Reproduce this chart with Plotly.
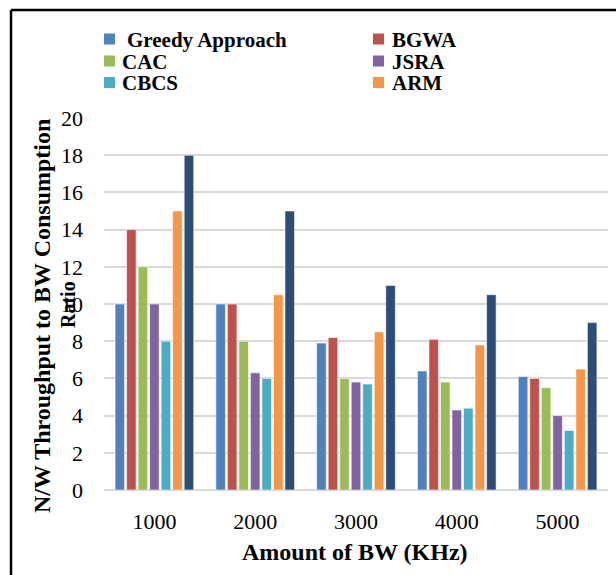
import plotly.graph_objects as go

# Bandwidth amounts on the x axis
bandwidth = ["1000", "2000", "3000", "4000", "5000"]

# Throughput-to-bandwidth-consumption ratio for each scheme
greedy = [10, 10, 7.9, 6.4, 6.1]
bgwa = [14, 10, 8.2, 8.1, 6.0]
cac = [12, 8, 6.0, 5.8, 5.5]
jsra = [10, 6.3, 5.8, 4.3, 4.0]
cbcs = [8, 6, 5.7, 4.4, 3.2]
arm = [15, 10.5, 8.5, 7.8, 6.5]
proposed = [18, 15, 11, 10.5, 9]

series = [
    ("Greedy Approach", greedy, "#4F81BD", True),
    ("BGWA", bgwa, "#C0504D", True),
    ("CAC", cac, "#9BBB59", True),
    ("JSRA", jsra, "#8064A2", True),
    ("CBCS", cbcs, "#4BACC6", True),
    ("ARM", arm, "#F79646", True),
    ("Proposed", proposed, "#2C4D75", False),
]

serif = "Liberation Serif, Times New Roman, serif"

fig = go.Figure()
for name, vals, color, show in series:
    fig.add_trace(go.Bar(
        x=bandwidth, y=vals, name=name, showlegend=False,
        marker=dict(color=color, line=dict(color="white", width=0.6)),
    ))

# plot area in pixels
L, R, T, B = 104, 8, 118, 85
W, H = 616, 575
pw, ph = W - L - R, H - T - B


def px_x(p):
    return (p - L) / pw


def px_y(p):
    return (H - B - p) / ph


shapes = [
    dict(type="line", xref="paper", yref="paper",
         x0=px_x(11), x1=px_x(640), y0=px_y(10), y1=px_y(10),
         line=dict(color="black", width=2.5)),
    dict(type="line", xref="paper", yref="paper",
         x0=px_x(11), x1=px_x(11), y0=px_y(10), y1=px_y(600),
         line=dict(color="black", width=2.5)),
]

annotations = [
    dict(text="<b>N/W Throughput to BW Consumption</b>",
         xref="paper", yref="paper", x=px_x(42), y=px_y(316),
         xanchor="center", yanchor="middle", textangle=-90, showarrow=False,
         font=dict(family=serif, size=24, color="black")),
    dict(text="<b>Ratio</b>",
         xref="paper", yref="paper", x=px_x(68), y=px_y(305),
         xanchor="center", yanchor="middle", textangle=-90, showarrow=False,
         font=dict(family=serif, size=20, color="black")),
    dict(text="<b>Amount of BW (KHz)</b>",
         xref="paper", yref="paper", x=px_x(355), y=px_y(552),
         xanchor="center", yanchor="middle", showarrow=False,
         font=dict(family=serif, size=24, color="black")),
]

# legend: two columns, three rows, for the labelled schemes
col_marker = [104, 373]
col_text = [120, 390]
row_y = [39, 61, 82.5]
msize = 11
shown = [s for s in series if s[3]]
for i, (name, vals, color, show) in enumerate(shown):
    r, c = divmod(i, 2)
    x0 = col_marker[c]
    yc = row_y[r]
    shapes.append(dict(type="rect", xref="paper", yref="paper",
                       x0=px_x(x0), x1=px_x(x0 + msize),
                       y0=px_y(yc - msize / 2), y1=px_y(yc + msize / 2),
                       fillcolor=color, line=dict(width=0)))
    tx = col_text[c] + (5 if i == 0 else 0)
    annotations.append(dict(text="<b>%s</b>" % name, xref="paper", yref="paper",
                            x=px_x(tx), y=px_y(yc + 1), xanchor="left", yanchor="middle",
                            showarrow=False,
                            font=dict(family=serif, size=21, color="black")))

fig.update_layout(
    width=W, height=H,
    margin=dict(l=L, r=R, t=T, b=B),
    paper_bgcolor="white", plot_bgcolor="white",
    barmode="group", bargap=0.2, bargroupgap=0.17,
    font=dict(family=serif, color="black", size=21),
    showlegend=False,
    xaxis=dict(
        showgrid=False, showline=False, ticks="",
        tickfont=dict(family=serif, size=22), ticklabelstandoff=16,
    ),
    yaxis=dict(
        range=[0, 20], dtick=2, showgrid=True, gridcolor="#D9D9D9", gridwidth=2,
        zeroline=True, zerolinecolor="#D9D9D9", zerolinewidth=2,
        showline=False, ticks="",
        tickfont=dict(family=serif, size=22), ticklabelstandoff=20,
    ),
    shapes=shapes,
    annotations=annotations,
)

fig.write_html("out.html")
